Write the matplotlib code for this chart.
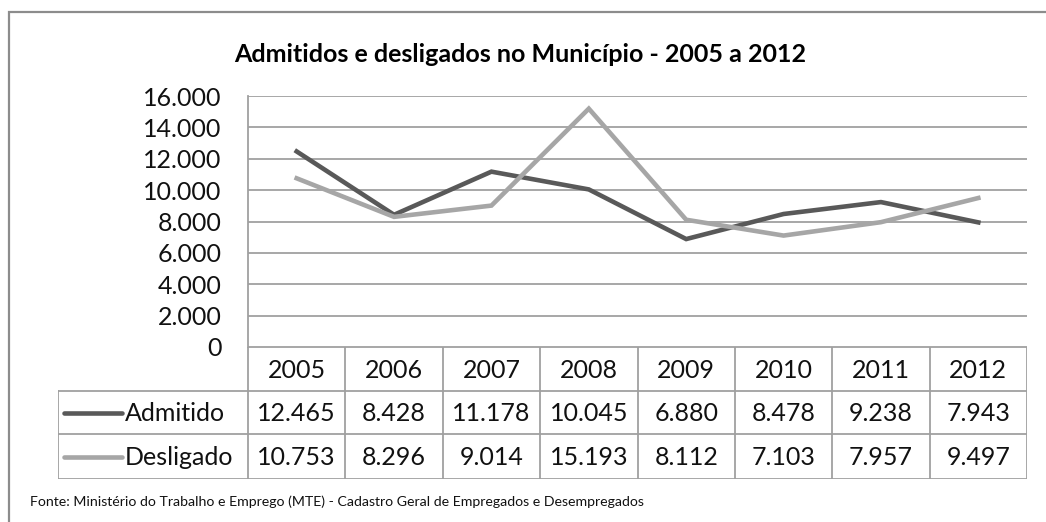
import matplotlib.pyplot as plt
from matplotlib.patches import Rectangle

plt.rcParams['font.family'] = ['Lato', 'DejaVu Sans']

years = ['2005', '2006', '2007', '2008', '2009', '2010', '2011', '2012']
admitido = [12465, 8428, 11178, 10045, 6880, 8478, 9238, 7943]
desligado = [10753, 8296, 9014, 15193, 8112, 7103, 7957, 9497]
series_names = ['Admitido', 'Desligado']
series_colors = ['#595959', '#a6a6a6']
yticks = [0, 2000, 4000, 6000, 8000, 10000, 12000, 14000, 16000]

title = 'Admitidos e desligados no Município - 2005 a 2012'
source = 'Fonte: Ministério do Trabalho e Emprego (MTE) - Cadastro Geral de Empregados e Desempregados'

W, H = 1046, 522
grid_c = '#a0a0a0'
text_c = '#111111'
fs = 18


def fmt(v):
    return f'{v:,}'.replace(',', '.')


def fx(px):
    return px / W


def fy(py):
    return 1 - py / H


fig = plt.figure(figsize=(W / 100, H / 100), dpi=100)

# outer frame (runs off right and bottom)
fig.add_artist(Rectangle((fx(9), fy(540)), fx(1060 - 9), (540 - 12) / H,
                         transform=fig.transFigure, fill=False,
                         edgecolor='#8c8c8c', linewidth=1.6))

# plot area
left, right, top, zero = 248, 1027, 96, 347
ax = fig.add_axes([fx(left), fy(zero), fx(right - left), (zero - top) / H])
x = [i + 0.5 for i in range(len(years))]
for vals, c in zip([admitido, desligado], series_colors):
    ax.plot(x, vals, color=c, linewidth=3.3, solid_joinstyle='miter', zorder=3)
ax.set_xlim(0, len(years))
ax.set_ylim(0, 16000)
ax.set_yticks(yticks)
ax.set_yticklabels([fmt(v) for v in yticks], fontsize=fs, color=text_c)
ax.tick_params(axis='y', length=0, pad=19)
ax.set_xticks([])
ax.yaxis.grid(True, color=grid_c, linewidth=1.3)
for s in ['top', 'right', 'bottom']:
    ax.spines[s].set_visible(False)
ax.spines['left'].set_color(grid_c)
ax.spines['left'].set_linewidth(1.3)

# data table under the plot
col_w = (right - left) / len(years)
leg_left = 58
rows = [347, 391, 434, 479]
axt = fig.add_axes([fx(leg_left), fy(rows[-1]), fx(right - leg_left), (rows[-1] - rows[0]) / H])
axt.set_xlim(-(left - leg_left) / col_w, len(years))
axt.set_ylim(rows[-1], rows[0])
axt.axis('off')
lx0 = -(left - leg_left) / col_w
axt.plot([0, len(years)], [rows[0], rows[0]], color=grid_c, lw=1.3)
for r in rows[1:]:
    axt.plot([lx0, len(years)], [r, r], color=grid_c, lw=1.3)
for i in range(len(years) + 1):
    axt.plot([i, i], [rows[0], rows[-1]], color=grid_c, lw=1.3)
axt.plot([lx0, lx0], [rows[1], rows[-1]], color=grid_c, lw=1.3)
for i, yr in enumerate(years):
    axt.text(i + 0.5, (rows[0] + rows[1]) / 2 + 1, yr, ha='center', va='center',
             fontsize=fs, color=text_c)
for k, (name, vals, c) in enumerate(zip(series_names, [admitido, desligado], series_colors)):
    yc = (rows[k + 1] + rows[k + 2]) / 2
    for i, v in enumerate(vals):
        axt.text(i + 0.5, yc + 1, fmt(v), ha='center', va='center', fontsize=fs, color=text_c)
    axt.plot([(64 - left) / col_w, (122 - left) / col_w], [yc, yc], color=c, lw=3.3,
             solid_capstyle='round')
    axt.text((125 - left) / col_w, yc + 1, name, ha='left', va='center', fontsize=fs, color=text_c)

fig.text(fx(520), fy(55), title, ha='center', va='center', fontsize=18,
         fontweight='bold', color='#000000')
fig.text(fx(30), fy(502), source, ha='left', va='center', fontsize=10.2, color=text_c)

fig.savefig('out.png', dpi=100)
